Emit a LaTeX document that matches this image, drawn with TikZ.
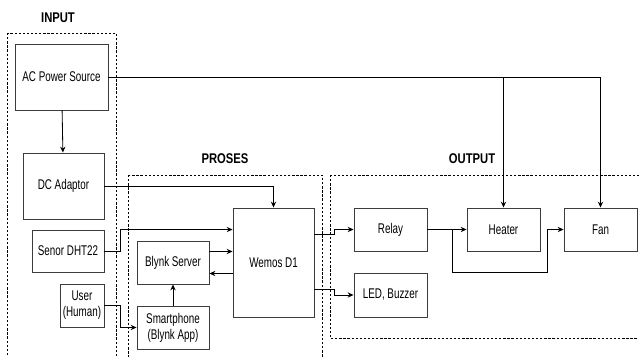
\documentclass[tikz,border=0pt]{standalone}
\usepackage{fontspec}
\setmainfont{Liberation Sans}[FakeStretch=0.7, BoldFeatures={FakeStretch=0.8}]
\usepackage{xcolor}
\definecolor{boxgray}{RGB}{60,60,60}
\usetikzlibrary{arrows.meta, calc}

\tikzset{
  blok/.style={draw=boxgray, line width=0.8pt, fill=white, align=center, inner sep=1pt,
               font=\fontsize{12}{13.5}\selectfont},
  grup/.style={draw=black, line width=0.6pt, dash pattern=on 2pt off 1.5pt},
  lbl/.style={font=\fontsize{12}{13}\selectfont\bfseries},
  arr/.style={draw=black, line width=0.7pt, -{Stealth[length=5pt,width=4.5pt]}},
  garis/.style={draw=black, line width=0.7pt}
}

\begin{document}
\begin{tikzpicture}[x=0.03cm, y=-0.03cm]
  \useasboundingbox (0,0) rectangle (639,356);
  \clip (0,0) rectangle (639,356);

  % group frames
  \draw[grup] (7,33) rectangle (116,380);
  \node[lbl] (tInput) at (58,18) {INPUT};
  \draw[grup] (128,175) rectangle (322,380);
  \node[lbl] (tProses) at (225,159) {PROSES};
  \draw[grup] (330,175) rectangle (660,338);
  \node[lbl] (tOutput) at (472,159) {OUTPUT};

  % input side
  \node[blok, minimum width=2.79cm, minimum height=1.98cm] (ac) at (61.5,77) {AC Power Source};
  \node[blok, minimum width=2.43cm, minimum height=1.98cm] (dc) at (63.5,186) {DC Adaptor};
  \node[blok, minimum width=2.16cm, minimum height=1.26cm] (dht) at (68,251) {Senor DHT22};
  \node[blok, minimum width=1.32cm, minimum height=1.29cm] (user) at (82,305.5) {User\\(Human)};

  % proses
  \node[blok, minimum width=2.16cm, minimum height=1.29cm] (blynk) at (173,262.5) {Blynk Server};
  \node[blok, minimum width=2.16cm, minimum height=1.29cm] (phone) at (173,327.5) {Smartphone\\(Blynk App)};
  \node[blok, minimum width=2.43cm, minimum height=3.27cm] (wemos) at (273.5,262.5) {Wemos D1};

  % output
  \node[blok, minimum width=2.19cm, minimum height=1.29cm] (relay) at (390.5,229.5) {Relay};
  \node[blok, minimum width=2.19cm, minimum height=1.29cm] (heater) at (503.5,229.5) {Heater};
  \node[blok, minimum width=2.19cm, minimum height=1.29cm] (fan) at (600.5,229.5) {Fan};
  \node[blok, minimum width=2.19cm, minimum height=1.32cm] (led) at (390.5,295) {LED, Buzzer};

  % power lines
  \draw[arr] (ac) -- (dc);
  \draw[arr] (ac.east) -| (fan.north);
  \draw[arr] (ac.east -| heater.north) -- (heater.north);
  \draw[arr] (dc.east) -| (wemos.north);

  % sensor and app
  \coordinate (w1) at ($(wemos.north west)+(0,22)$);
  \draw[arr] (dht.east) -- ++(16,0) |- (w1);
  \draw[arr] (user.east) -- ++(16,0) |- (phone.west);
  \draw[arr] (phone) -- (blynk);
  \coordinate (b1) at ($(blynk.east)+(0,-11)$);
  \coordinate (b2) at ($(blynk.east)+(0,11)$);
  \draw[arr] (b1) -- (b1 -| wemos.west);
  \draw[arr] (b2 -| wemos.west) -- (b2);

  % wemos to outputs
  \draw[arr] ($(wemos.north east)+(0,27)$) -- ++(20,0) |- (relay.west);
  \draw[arr] ($(wemos.north east)+(0,82)$) -- ++(20,0) |- (led.west);

  % relay to loads
  \draw[arr] (relay) -- (heater);
  \coordinate (br) at ($(relay.east)+(25,0)$);
  \draw[arr] (br) -- ++(0,43) -| ($(fan.west)+(-16,0)$) -- (fan.west);
\end{tikzpicture}
\end{document}
